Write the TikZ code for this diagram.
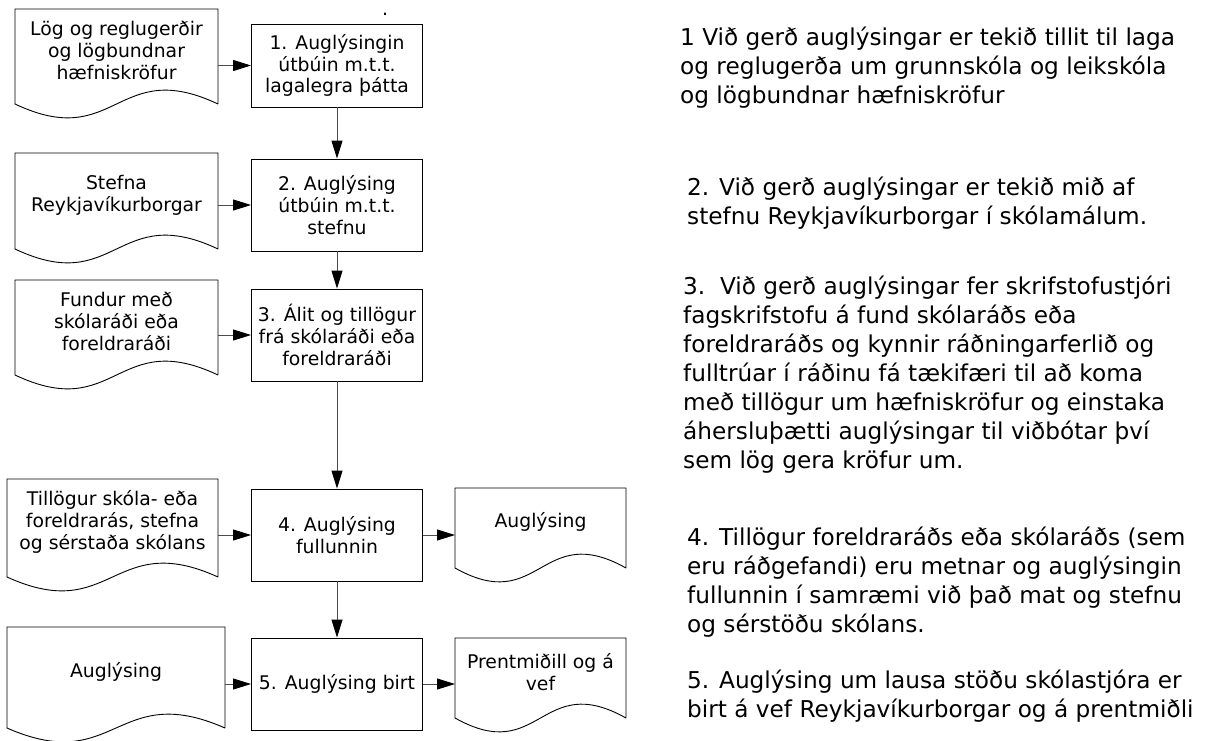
\documentclass[tikz,border=0pt]{standalone}
\usepackage{fontspec}
\setmainfont{DejaVu Sans}
\usetikzlibrary{calc,arrows.meta}
\tikzset{
  stepbox/.style={draw,line width=0.9pt,minimum width=171pt,minimum height=92pt,inner sep=2pt,align=center,font=\fontsize{18.8}{21.7}\selectfont},
  docu/.style 2 args={minimum width=#1,minimum height=#2,inner sep=0pt,outer sep=0pt,align=center,font=\fontsize{18.8}{21.7}\selectfont},
  note/.style={anchor=west,inner sep=0pt,align=left,font=\fontsize{23.2}{29}\selectfont},
  flow/.style={draw=black!70,line width=0.9pt,-{Triangle[length=18pt,width=11pt,color=black]}}
}
\begin{document}
\begin{tikzpicture}[x=1pt,y=-1pt]
    \useasboundingbox (0,0) rectangle (1207,740);
    % steps
    \node[stepbox,minimum height=83pt] (b1) at (337,65.5) {1. Auglýsingin\\útbúin m.t.t.\\lagalegra þátta};
    \node[stepbox] (b2) at (337,205) {2. Auglýsing\\útbúin m.t.t.\\stefnu};
    \node[stepbox] (b3) at (337,335) {3. Álit og tillögur\\frá skólaráði eða\\foreldraráði};
    \node[stepbox] (b4) at (337,535) {4. Auglýsing\\fullunnin};
    \node[stepbox] (b5) at (337,684) {5. Auglýsing birt};
    \node[font=\fontsize{18.8}{21.7}\selectfont,inner sep=0pt] (dot) at (385,14) {.};
    % documents
    \node[docu={203}{83}] (d1) at (116.5,50.5) {Lög og reglugerðir\\og lögbundnar\\hæfniskröfur};
    \node[docu={203}{84}] (d2) at (116.5,195) {Stefna\\Reykjavíkurborgar};
    \node[docu={203}{83}] (d3) at (116.5,321.5) {Fundur með\\skólaráði eða\\foreldraráði};
    \node[docu={211}{86}] (d4) at (112.5,522) {Tillögur skóla- eða\\foreldrarás, stefna\\og sérstaða skólans};
    \node[docu={218}{89}] (d5) at (116,671.5) {Auglýsing};
    \node[docu={171}{68}] (o4) at (540.5,522) {Auglýsing};
    \node[docu={171}{68}] (o5) at (540.5,672) {Prentmiðill og á\\vef};
    \foreach \n in {d1,d2,d3,d4,d5,o4,o5}{
        \draw[line width=0.9pt] ($(\n.south east)+(0,12)$)--(\n.north east)--(\n.north west)--($(\n.south west)+(0,12)$) .. controls ($(\n.south)+(0,60)$) and ($(\n.south)+(0,-36)$) .. ($(\n.south east)+(0,12)$);
    }
    % connectors
    \foreach \a/\b in {d1/b1,d2/b2,d3/b3,d4/b4,d5/b5}{
        \draw[flow] (\b.west -| \a.east)--(\b.west);
    }
    \foreach \a/\b in {b4/o4,b5/o5}{
        \draw[flow] (\a.east)--(\a.east -| \b.west);
    }
    \foreach \a/\b in {b1/b2,b2/b3,b3/b4,b4/b5}{
        \draw[flow] (\a.south)--(\b.north);
    }
    % notes
    \node[note] (n1) at (680,67.5) {1 Við gerð auglýsingar er tekið tillit til laga\\og reglugerða um grunnskóla og leikskóla\\og lögbundnar hæfniskröfur};
    \node[note] (n2) at (687,203.5) {2. Við gerð auglýsingar er tekið mið af\\stefnu Reykjavíkurborgar í skólamálum.};
    \node[note] (n3) at (683,375) {3.\ \ Við gerð auglýsingar fer skrifstofustjóri\\fagskrifstofu á fund skólaráðs eða\\foreldraráðs og kynnir ráðningarferlið og\\fulltrúar í ráðinu fá tækifæri til að koma\\með tillögur um hæfniskröfur og einstaka\\áhersluþætti auglýsingar til viðbótar því\\sem lög gera kröfur um.};
    \node[note] (n4) at (687,582) {4. Tillögur foreldraráðs eða skólaráðs (sem\\eru ráðgefandi) eru metnar og auglýsingin\\fullunnin í samræmi við það mat og stefnu\\og sérstöðu skólans.};
    \node[note] (n5) at (687,696) {5. Auglýsing um lausa stöðu skólastjóra er\\birt á vef Reykjavíkurborgar og á prentmiðli};
\end{tikzpicture}
\end{document}
